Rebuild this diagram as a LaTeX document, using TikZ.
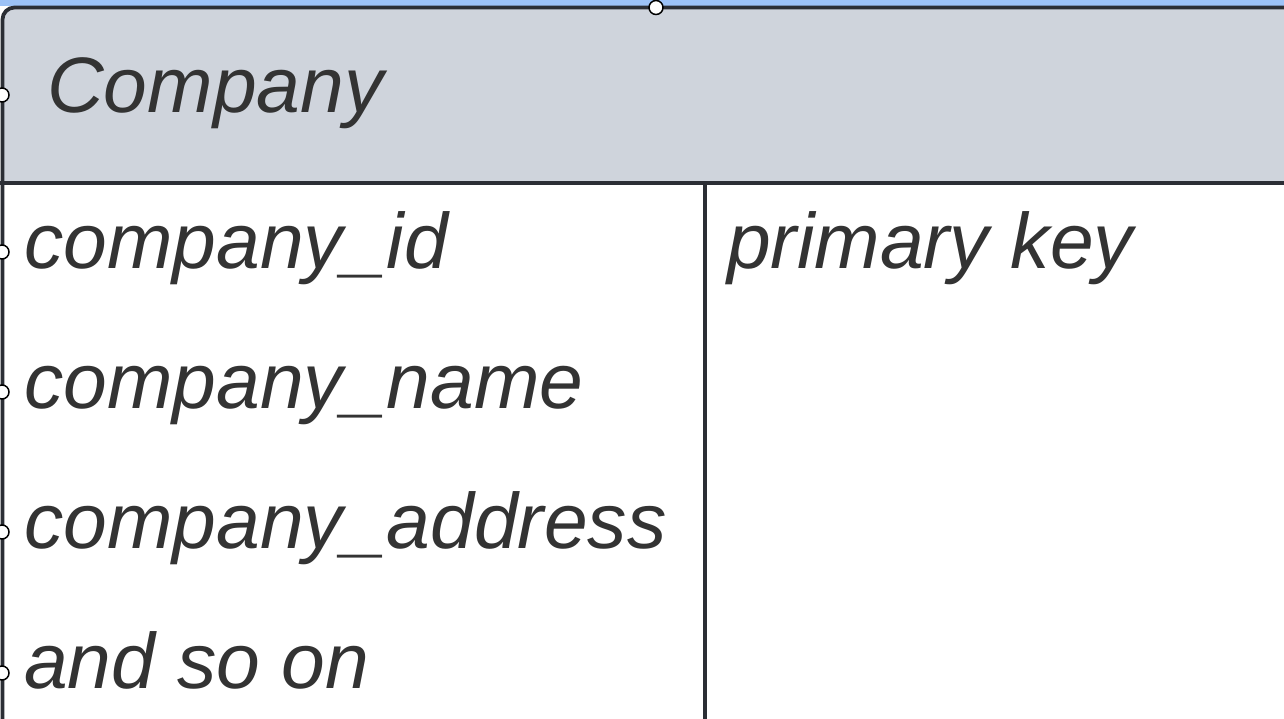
\documentclass[tikz,border=0pt]{standalone}
\usepackage{fontspec}
\setmainfont{Liberation Sans}
\definecolor{selblue}{HTML}{9CC2F7}
\definecolor{headfill}{HTML}{CFD4DC}
\definecolor{border}{HTML}{2B2E35}
\definecolor{txt}{HTML}{333333}
\tikzset{
  lbl/.style={anchor=base west, inner sep=0pt, text=txt, font=\itshape\fontsize{78.6}{78.6}\selectfont},
  handle/.style={circle, draw=black, fill=white, line width=1.5pt, minimum size=14pt, inner sep=0pt},
  edge/.style={draw=border, line width=3.8pt}
}
\begin{document}
\begin{tikzpicture}[x=1pt,y=-1pt]
\useasboundingbox (0,0) rectangle (1284,718);
\fill[white] (0,0) rectangle (1284,718);
% selection band
\fill[selblue] (0,0) rectangle (1284,5.5);
% header
\fill[headfill, rounded corners=12pt] (2.5,7.5) rectangle (1320,300);
\fill[white] (2.5,183) rectangle (1284,718);
% borders
\draw[edge, rounded corners=12pt] (2.5,730) -- (2.5,7.5) -- (1320,7.5);
\draw[edge] (0,183) -- (1284,183);
\draw[edge] (705,183) -- (705,730);
% texts
\node[lbl] (title) at (47,112) {Company};
\node[lbl] (r1) at (24,268) {company\_id};
\node[lbl] (k1) at (727,268) {primary key};
\node[lbl] (r2) at (24,408) {company\_name};
\node[lbl] (r3) at (24,548) {company\_address};
\node[lbl] (r4) at (24,688) {and so on};
% handles
\node[handle] (h0) at (656,7.5) {};
\node[handle] (h1) at (2,95) {};
\node[handle] (h2) at (2,252) {};
\node[handle] (h3) at (2,392) {};
\node[handle] (h4) at (2,532) {};
\node[handle] (h5) at (2,673) {};
\end{tikzpicture}
\end{document}
